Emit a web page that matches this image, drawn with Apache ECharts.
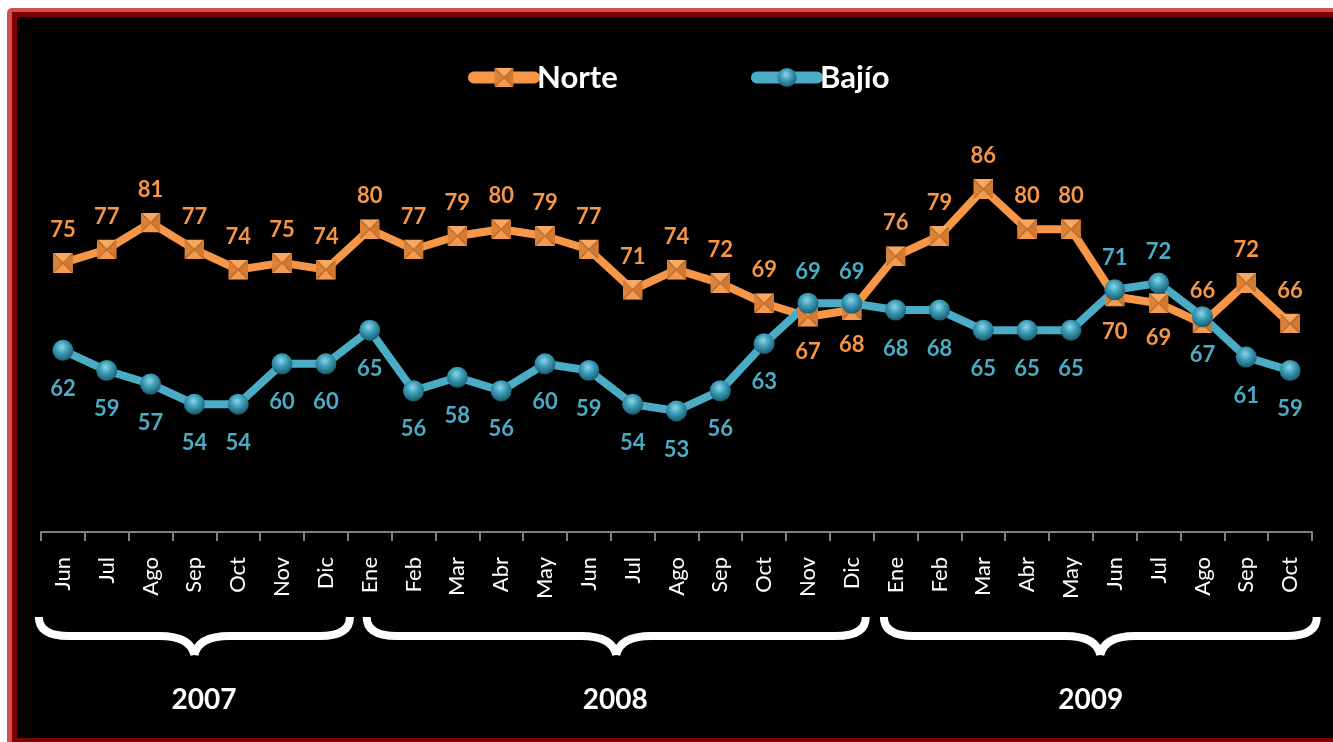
<!DOCTYPE html>
<html>
<head>
<meta charset="utf-8">
<script src="https://cdn.jsdelivr.net/npm/echarts/dist/echarts.min.js"></script>
<style>
html,body{margin:0;padding:0;background:#fff;width:1333px;height:742px;overflow:hidden;}
#frame1{position:absolute;left:7px;top:8px;width:1400px;height:800px;background:#D14F4F;border-top-left-radius:5px;}
#frame2{position:absolute;left:12px;top:12px;width:1400px;height:730px;background:#800000;}
#chart{position:absolute;left:17px;top:17px;width:1316px;height:721px;background:#000;}
</style>
</head>
<body>
<div id="frame1"></div>
<div id="frame2"></div>
<div id="chart"></div>
<script>
const categories = ['Jun','Jul','Ago','Sep','Oct','Nov','Dic',
  'Ene','Feb','Mar','Abr','May','Jun','Jul','Ago','Sep','Oct','Nov','Dic',
  'Ene','Feb','Mar','Abr','May','Jun','Jul','Ago','Sep','Oct'];
const norte = [75,77,81,77,74,75,74,80,77,79,80,79,77,71,74,72,69,67,68,76,79,86,80,80,70,69,66,72,66];
const bajio = [62,59,57,54,54,60,60,65,56,58,56,60,59,54,53,56,63,69,69,68,68,65,65,65,71,72,67,61,59];
const years = ['2007','2008','2009'];

// layout / style settings
const flipIdx = [17,18,24,25];              // points where labels swap side
const braceSpan = [[-0.64,6.64],[6.84,18.41],[18.64,28.7]];
const yearPos = [3.22,12.6,23.45];

const ORANGE = '#F79646', BLUE = '#4BACC6';
const FONT = 'Lato';

const norteSvg = "<svg xmlns='http://www.w3.org/2000/svg' width='20' height='20' viewBox='0 0 20 20'>" +
  "<polygon points='0,0 20,0 10,10' fill='#F9A862'/>" +
  "<polygon points='20,0 20,20 10,10' fill='#D27A32'/>" +
  "<polygon points='0,20 20,20 10,10' fill='#F39A4E'/>" +
  "<polygon points='0,0 0,20 10,10' fill='#DA8238'/>" +
  "<path d='M1,1 L19,19 M19,1 L1,19' stroke='#B8652A' stroke-width='1.5' opacity='0.7'/>" +
  "</svg>";
const norteSymbol = 'image://data:image/svg+xml;charset=utf-8,' + encodeURIComponent(norteSvg);

const sphere = {type:'radial', x:0.45, y:0.35, r:0.65, colorStops:[
  {offset:0, color:'#8FD4E6'},{offset:0.45, color:'#3C9DB8'},{offset:1, color:'#1A5A6C'}]};

const chart = echarts.init(document.getElementById('chart'));

const labelBase = {show:true, fontSize:22, fontWeight:'bold', fontFamily:FONT};
const legendBase = {itemWidth:60, itemHeight:24, top:40,
  lineStyle:{width:12, cap:'round'},
  textStyle:{color:'#fff', fontSize:31, fontWeight:'bold', fontFamily:FONT, padding:[0,0,0,-2]}};

chart.setOption({
  animation:false,
  backgroundColor:'#000',
  legend:[
    Object.assign({data:['Norte'], left:446}, legendBase),
    Object.assign({data:['Bajío'], left:729}, legendBase)
  ],
  grid:{left:24, right:21, top:145, bottom:206, containLabel:false},
  xAxis:{
    type:'category', data:categories, boundaryGap:true,
    axisLine:{lineStyle:{color:'#808080', width:2}},
    axisTick:{show:true, length:9, lineStyle:{color:'#808080', width:2}},
    axisLabel:{rotate:90, color:'#fff', fontSize:22, fontFamily:FONT, margin:25, interval:0}
  },
  yAxis:{type:'value', min:35, max:90, show:false, splitLine:{show:false}},
  series:[
    {
      name:'Norte', type:'line',
      data: norte.map((v,i)=> flipIdx.includes(i) ? {value:v, label:{position:'bottom', distance:14}} : v),
      symbol:norteSymbol, symbolSize:20, showAllSymbol:true,
      lineStyle:{color:ORANGE, width:8}, itemStyle:{color:ORANGE},
      label:Object.assign({}, labelBase, {position:'top', distance:12, color:ORANGE})
    },
    {
      name:'Bajío', type:'line',
      data: bajio.map((v,i)=> flipIdx.includes(i) ? {value:v, label:{position:'top', distance:10}} : v),
      symbol:'circle', symbolSize:21, showAllSymbol:true,
      lineStyle:{color:BLUE, width:8}, itemStyle:{color:sphere},
      label:Object.assign({}, labelBase, {position:'bottom', distance:17, color:BLUE})
    }
  ]
});

const p0 = chart.convertToPixel({xAxisIndex:0}, 0);
const p1 = chart.convertToPixel({xAxisIndex:0}, 1);
const band = p1 - p0;
const X = f => p0 + f*band;

const yTop = 600, yMid = 619, yTip = 638, yYear = 683;
const braceStyle = {stroke:'#fff', lineWidth:8, fill:null, lineCap:'butt'};
const graphics = [];
function curve(x1,y1,cx,cy,x2,y2){
  graphics.push({type:'bezierCurve', shape:{x1:x1,y1:y1,cpx1:cx,cpy1:cy,x2:x2,y2:y2}, style:braceStyle, silent:true});
}
function seg(x1,y1,x2,y2){
  graphics.push({type:'line', shape:{x1:x1,y1:y1,x2:x2,y2:y2}, style:braceStyle, silent:true});
}
braceSpan.forEach((s, k) => {
  const x0 = X(s[0]) + 4, x1 = X(s[1]) - 4, xm = (x0 + x1)/2;
  curve(x0, yTop, x0, yMid, x0+30, yMid);
  seg(x0+29, yMid, xm-34, yMid);
  curve(xm-35, yMid, xm-4, yMid, xm, yTip);
  curve(xm, yTip, xm+4, yMid, xm+35, yMid);
  seg(xm+34, yMid, x1-29, yMid);
  curve(x1-30, yMid, x1, yMid, x1, yTop);
  graphics.push({type:'text', x:X(yearPos[k]), y:yYear, silent:true,
    style:{text:years[k], fill:'#fff', fontSize:28, fontWeight:'bold', fontFamily:FONT,
           align:'center', verticalAlign:'middle'}});
});
chart.setOption({graphic:graphics});
</script>
</body>
</html>
